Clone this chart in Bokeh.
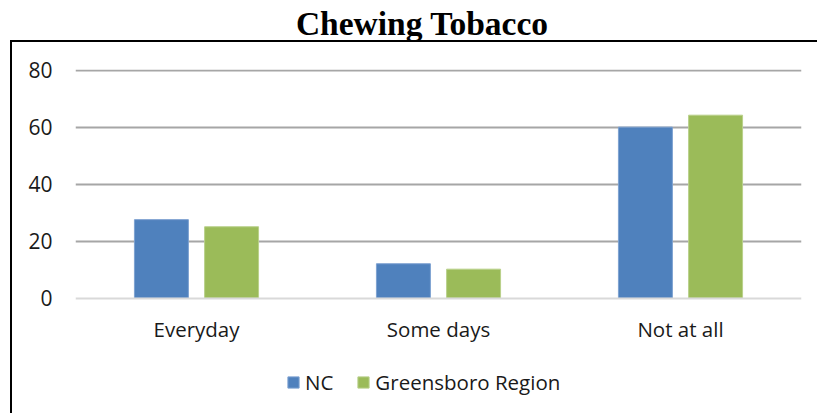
from bokeh.plotting import figure
from bokeh.models import Div, Legend, LegendItem, ColumnDataSource, FactorRange, FixedTicker, Spacer, Range1d
from bokeh.layouts import column, row
from bokeh.transform import dodge
from bokeh.embed import file_html
from bokeh.resources import INLINE

categories = ["Everyday", "Some days", "Not at all"]
nc_values = [27.6, 12.1, 60.1]
greensboro_values = [25.1, 10.2, 64.3]
series_names = ["NC", "Greensboro Region"]
y_ticks = [0, 20, 40, 60, 80]

source = ColumnDataSource(dict(cat=categories, nc=nc_values, gr=greensboro_values))

title = Div(
    text='<div style="display:block;width:817px;padding-left:27px;padding-top:7px;'
         'font-family:\'Liberation Serif\';font-weight:bold;font-size:33.5px;line-height:34px;'
         'text-align:center;color:#000;">Chewing Tobacco</div>',
    width=817, height=40, margin=0,
)

# frame: top at 69 px (value 80.35), bottom at 405 px; value 0 sits at ~297.7 px
p = figure(
    x_range=FactorRange(factors=categories, range_padding=0),
    y_range=Range1d(-37.7, 80.35),
    width=805, height=371,
    output_backend="svg", toolbar_location=None,
    min_border_left=63, min_border_right=16, min_border_top=27, min_border_bottom=8,
)
p.outline_line_color = None

r1 = p.vbar(x=dodge("cat", -0.145, range=p.x_range), top="nc", width=0.223,
            source=source, fill_color="#4F81BD", line_color="#7da1d1", line_width=1)
r2 = p.vbar(x=dodge("cat", 0.145, range=p.x_range), top="gr", width=0.223,
            source=source, fill_color="#9BBB59", line_color="#b9d08a", line_width=1)

p.xgrid.grid_line_color = None
p.ygrid.ticker = FixedTicker(ticks=[20, 40, 60, 80])
p.ygrid.grid_line_color = "#a6a6a6"
p.ygrid.grid_line_width = 2

p.yaxis.ticker = FixedTicker(ticks=y_ticks)
p.yaxis.axis_line_color = None
p.yaxis.major_tick_line_color = None
p.yaxis.major_tick_out = 0
p.yaxis.minor_tick_line_color = None
p.yaxis.major_label_standoff = 23
p.yaxis.major_label_text_font = "Open Sans"
p.yaxis.major_label_text_font_size = "21px"
p.yaxis.major_label_text_color = "#1a1a1a"

p.xaxis.fixed_location = 0
p.xaxis.axis_line_color = "#d9d9d9"
p.xaxis.axis_line_width = 2
p.xaxis.major_tick_line_color = None
p.xaxis.major_tick_out = 0
p.xaxis.minor_tick_line_color = None
p.xaxis.major_label_standoff = 17
p.xaxis.major_label_text_font = "Open Sans"
p.xaxis.major_label_text_font_size = "20.5px"
p.xaxis.major_label_text_color = "#1a1a1a"

legend = Legend(items=[LegendItem(label=series_names[0], renderers=[r1]),
                       LegendItem(label=series_names[1], renderers=[r2])],
                orientation="horizontal", location=(211, 9))
legend.label_text_font = "Open Sans"
legend.label_text_font_size = "20.5px"
legend.label_text_color = "#1a1a1a"
legend.glyph_width = 14
legend.glyph_height = 14
legend.label_standoff = 5
legend.spacing = 23
legend.border_line_color = None
legend.background_fill_alpha = 0
legend.margin = 0
legend.padding = 0
p.add_layout(legend, "center")

top_line = Div(text="", width=807, height=2, margin=0, styles={"background-color": "#000"})
left_line = Div(text="", width=2, height=371, margin=0, styles={"background-color": "#000"})

layout = column(
    title,
    row(Spacer(width=10, height=373, margin=0),
        column(top_line, row(left_line, p, spacing=0), spacing=0),
        spacing=0),
    spacing=0,
)
open("out.html", "w").write(file_html(layout, INLINE))
